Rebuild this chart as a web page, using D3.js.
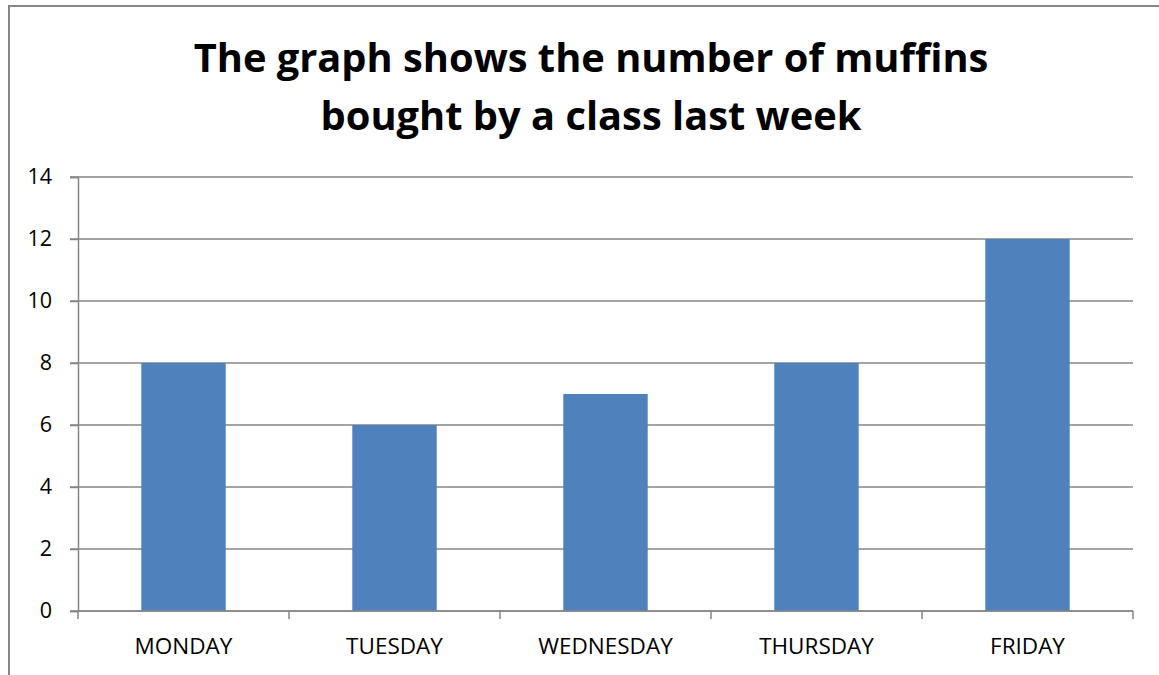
<!DOCTYPE html>
<html>
<head>
<meta charset="utf-8">
<script src="https://cdn.jsdelivr.net/npm/d3@7/dist/d3.min.js"></script>
<style>
  html, body { margin: 0; padding: 0; background: #fff; }
  svg { display: block; }
</style>
</head>
<body>
<svg id="chart" width="1159" height="675"></svg>
<script>
// data
const days = ['MONDAY', 'TUESDAY', 'WEDNESDAY', 'THURSDAY', 'FRIDAY'];
const muffins = [8, 6, 7, 8, 12];
const yTicks = [0, 2, 4, 6, 8, 10, 12, 14];
const titleLines = ['The graph shows the number of muffins', 'bought by a class last week'];

const svg = d3.select('#chart');
const width = +svg.attr('width');
const height = +svg.attr('height');

const margin = { top: 177, right: 26, bottom: 64, left: 78 };
const font = '"Open Sans", "Liberation Sans", sans-serif';
const grey = '#868686';

// outer border (right/bottom run off the picture)
svg.append('rect')
  .attr('x', 9).attr('y', 6)
  .attr('width', width + 20).attr('height', height + 20)
  .attr('fill', 'none')
  .attr('stroke', grey)
  .attr('stroke-width', 2);

const x = d3.scaleBand()
  .domain(days)
  .range([margin.left, width - margin.right])
  .paddingInner(0.6)
  .paddingOuter(0.3);

const y = d3.scaleLinear()
  .domain([0, 14])
  .range([height - margin.bottom, margin.top]);

// gridlines
svg.append('g')
  .selectAll('line')
  .data(yTicks)
  .join('line')
  .attr('x1', margin.left - 8)
  .attr('x2', width - margin.right)
  .attr('y1', d => y(d))
  .attr('y2', d => y(d))
  .attr('stroke', grey)
  .attr('stroke-width', 1.5);

// y axis
const yAxis = svg.append('g')
  .attr('transform', `translate(${margin.left},0)`)
  .call(d3.axisLeft(y).tickValues(yTicks).tickSize(8).tickPadding(18));
yAxis.select('.domain').attr('stroke', grey).attr('stroke-width', 1.5);
yAxis.selectAll('.tick line').attr('stroke', grey).attr('stroke-width', 1.5);
yAxis.selectAll('.tick text')
  .attr('fill', '#000')
  .style('font-family', font)
  .style('font-size', '21.5px');

// bars
svg.append('g')
  .selectAll('rect')
  .data(days)
  .join('rect')
  .attr('x', d => x(d))
  .attr('width', x.bandwidth())
  .attr('y', (d, i) => y(muffins[i]))
  .attr('height', (d, i) => y(0) - y(muffins[i]))
  .attr('fill', '#4F81BD');

// x axis: ticks at category boundaries
const step = x.step();
const bounds = d3.range(days.length + 1).map(i => margin.left + i * step);
const xAxisG = svg.append('g');
xAxisG.append('line')
  .attr('x1', margin.left).attr('x2', width - margin.right)
  .attr('y1', y(0)).attr('y2', y(0))
  .attr('stroke', grey).attr('stroke-width', 1.5);
xAxisG.selectAll('line.tk')
  .data(bounds)
  .join('line')
  .attr('class', 'tk')
  .attr('x1', d => d).attr('x2', d => d)
  .attr('y1', y(0)).attr('y2', y(0) + 8)
  .attr('stroke', grey).attr('stroke-width', 1.5);
xAxisG.selectAll('text')
  .data(days)
  .join('text')
  .attr('x', d => x(d) + x.bandwidth() / 2)
  .attr('y', y(0) + 43)
  .attr('text-anchor', 'middle')
  .style('font-family', font)
  .style('font-size', '22.5px')
  .text(d => d);

// title
const title = svg.append('g')
  .selectAll('text')
  .data(titleLines)
  .join('text')
  .attr('x', 591)
  .attr('y', (d, i) => 72 + i * 58)
  .attr('text-anchor', 'middle')
  .style('font-family', font)
  .style('font-weight', 'bold')
  .style('font-size', '44px')
  .text(d => d);
// fit first line to ~795px wide
const w0 = title.node().getComputedTextLength();
title.style('font-size', (44 * 795 / w0) + 'px');
</script>
</body>
</html>
